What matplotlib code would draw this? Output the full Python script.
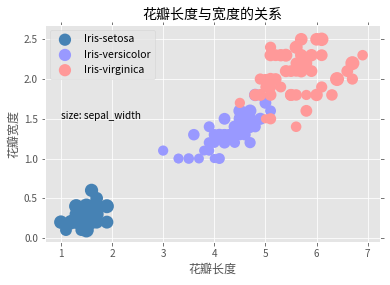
import matplotlib
matplotlib.use("Agg")
import matplotlib.pyplot as plt
import numpy as np

plt.style.use("ggplot")
plt.rcParams['font.family'] = ['Noto Sans CJK SC', 'DejaVu Sans']
plt.rcParams['axes.unicode_minus'] = False

species = ["Iris-setosa", "Iris-versicolor", "Iris-virginica"]
colors = ["#4682B4", "#9999FF", "#FF9999"]

setosa_petal_length = [1.4,1.4,1.3,1.5,1.4,1.7,1.4,1.5,1.4,1.5,1.5,1.6,1.4,1.1,1.2,1.5,1.3,1.4,1.7,1.5,
                       1.7,1.5,1.0,1.7,1.9,1.6,1.6,1.5,1.4,1.6,1.6,1.5,1.5,1.4,1.5,1.2,1.3,1.5,1.3,1.5,
                       1.3,1.3,1.3,1.6,1.9,1.4,1.6,1.4,1.5,1.4]
setosa_petal_width = [0.2,0.2,0.2,0.2,0.2,0.4,0.3,0.2,0.2,0.1,0.2,0.2,0.1,0.1,0.2,0.4,0.4,0.3,0.3,0.3,
                      0.2,0.4,0.2,0.5,0.2,0.2,0.4,0.2,0.2,0.2,0.2,0.4,0.1,0.2,0.1,0.2,0.2,0.1,0.2,0.2,
                      0.3,0.3,0.2,0.6,0.4,0.3,0.2,0.2,0.2,0.2]
setosa_sepal_width = [3.5,3.0,3.2,3.1,3.6,3.9,3.4,3.4,2.9,3.1,3.7,3.4,3.0,3.0,4.0,4.4,3.9,3.5,3.8,3.8,
                      3.4,3.7,3.6,3.3,3.4,3.0,3.4,3.5,3.4,3.2,3.1,3.4,4.1,4.2,3.1,3.2,3.5,3.1,3.0,3.4,
                      3.5,2.3,3.2,3.5,3.8,3.0,3.8,3.2,3.7,3.3]

versicolor_petal_length = [4.7,4.5,4.9,4.0,4.6,4.5,4.7,3.3,4.6,3.9,3.5,4.2,4.0,4.7,3.6,4.4,4.5,4.1,4.5,3.9,
                           4.8,4.0,4.9,4.7,4.3,4.4,4.8,5.0,4.5,3.5,3.8,3.7,3.9,5.1,4.5,4.5,4.7,4.4,4.1,4.0,
                           4.4,4.6,4.0,3.3,4.2,4.2,4.2,4.3,3.0,4.1]
versicolor_petal_width = [1.4,1.5,1.5,1.3,1.5,1.3,1.6,1.0,1.3,1.4,1.0,1.5,1.0,1.4,1.3,1.4,1.5,1.0,1.5,1.1,
                          1.8,1.3,1.5,1.2,1.3,1.4,1.4,1.7,1.5,1.0,1.1,1.0,1.2,1.6,1.5,1.6,1.5,1.3,1.3,1.3,
                          1.2,1.4,1.2,1.0,1.3,1.2,1.3,1.3,1.1,1.3]
versicolor_sepal_width = [3.2,3.2,3.1,2.3,2.8,2.8,3.3,2.4,2.9,2.7,2.0,3.0,2.2,2.9,2.9,3.1,3.0,2.7,2.2,2.5,
                          3.2,2.8,2.5,2.8,2.9,3.0,2.8,3.0,2.9,2.6,2.4,2.4,2.7,2.7,3.0,3.4,3.1,2.3,3.0,2.5,
                          2.6,3.0,2.6,2.3,2.7,3.0,2.9,2.9,2.5,2.8]

virginica_petal_length = [6.0,5.1,5.9,5.6,5.8,6.6,4.5,6.3,5.8,6.1,5.1,5.3,5.5,5.0,5.1,5.3,5.5,6.7,6.9,5.0,
                          5.7,4.9,6.7,4.9,5.7,6.0,4.8,4.9,5.6,5.8,6.1,6.4,5.6,5.1,5.6,6.1,5.6,5.5,4.8,5.4,
                          5.6,5.1,5.1,5.9,5.7,5.2,5.0,5.2,5.4,5.1]
virginica_petal_width = [2.5,1.9,2.1,1.8,2.2,2.1,1.7,1.8,1.8,2.5,2.0,1.9,2.1,2.0,2.4,2.3,1.8,2.2,2.3,1.5,
                         2.3,2.0,2.0,1.8,2.1,1.8,1.8,1.8,2.1,1.6,1.9,2.0,2.2,1.5,1.4,2.3,2.4,1.8,1.8,2.1,
                         2.4,2.3,1.9,2.3,2.5,2.3,1.9,2.0,2.3,1.8]
virginica_sepal_width = [3.3,2.7,3.0,2.9,3.0,3.0,2.5,2.9,2.5,3.6,3.2,2.7,3.0,2.5,2.8,3.2,3.0,3.8,2.6,2.2,
                         3.2,2.8,2.8,2.7,3.3,3.2,2.8,3.0,2.8,3.0,2.8,3.8,2.8,2.8,2.6,3.0,3.4,3.1,3.0,3.1,
                         3.1,3.1,2.7,3.2,3.3,3.0,2.5,3.0,3.4,3.0]

petal_length = [setosa_petal_length, versicolor_petal_length, virginica_petal_length]
petal_width = [setosa_petal_width, versicolor_petal_width, virginica_petal_width]
sepal_width = [setosa_sepal_width, versicolor_sepal_width, virginica_sepal_width]

fig = plt.figure(figsize=(390/72, 285/72), dpi=72)
ax = fig.add_axes([45/390, 1 - 242/285, 335/390, 217/285])

for name, c, x, y, sw in zip(species, colors, petal_length, petal_width, sepal_width):
    sizes = 70 * np.array(sw) - 70
    ax.scatter(x, y, s=sizes, c=c, label=name, alpha=1.0, edgecolors='none')

ax.set_xlim(0.69, 7.24)
ax.set_ylim(-0.05, 2.68)
ax.set_xticks([1, 2, 3, 4, 5, 6, 7])
ax.set_yticks([0.0, 0.5, 1.0, 1.5, 2.0, 2.5])
ax.tick_params(top=True, right=True, labelsize=10)

ax.set_title("花瓣长度与宽度的关系", fontsize=14, color='black')
ax.set_xlabel("花瓣长度", fontsize=12, color='#555555')
ax.set_ylabel("花瓣宽度", fontsize=12, color='#555555')
ax.text(1.0, 1.5, "size: sepal_width", fontsize=10, color='black')

leg = ax.legend(loc='upper left', fontsize=10.5, frameon=True)
for h in leg.legend_handles:
    h.set_sizes([150])

fig.savefig("out.png", dpi=72)
